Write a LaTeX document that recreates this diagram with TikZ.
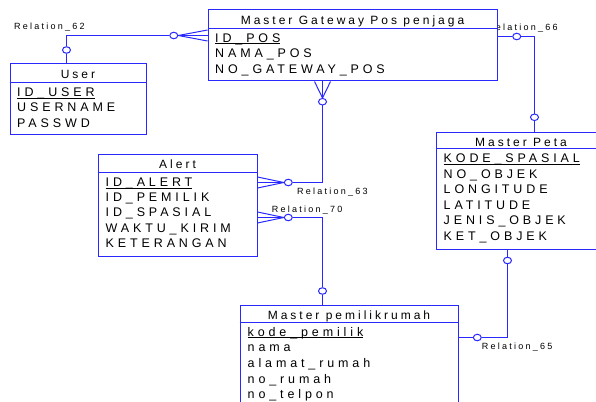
\documentclass[tikz,border=0pt]{standalone}
\usepackage{fontspec}
\setmainfont{Liberation Sans}
\newfontfamily\erdfont[LetterSpace=25]{Liberation Sans}
\newfontfamily\attrfont[LetterSpace=31]{Liberation Sans}
\usetikzlibrary{calc,shapes.geometric}
\definecolor{erdblue}{RGB}{40,40,255}
\newcommand{\keyattr}[1]{\setbox0\hbox{#1}\rlap{\rule[-1.8pt]{\wd0}{0.8pt}}\box0}

\begin{document}
\begin{tikzpicture}[x=1pt, y=-1pt,
    entity/.style={draw=erdblue, fill=white, line width=1pt, inner sep=0,
        anchor=north west},
    etitle/.style={font=\erdfont\fontsize{12}{14}\selectfont, anchor=base,
        inner sep=0},
    attr/.style={font=\attrfont\fontsize{12.5}{14}\selectfont,
        anchor=base west, inner sep=0},
    rel/.style={draw=erdblue, line width=1pt},
    opt/.style={ellipse, draw=erdblue, fill=white, line width=1pt,
        minimum width=8pt, minimum height=6.5pt, inner sep=0},
    relname/.style={font=\erdfont\fontsize{9}{10}\selectfont, anchor=west,
        inner sep=0},
]
    \useasboundingbox (0,0) rectangle (596,401);
    \clip (0,0) rectangle (596,401);

    %% relation names (Relation_66 is partly hidden by the gateway box)
    \node[relname] (l62) at (14,27) {Relation\_62};
    \node[relname] (l66) at (487,28.5) {Relation\_66};
    \node[relname] (l63) at (297,191.7) {Relation\_63};
    \node[relname] (l70) at (271.7,210) {Relation\_70};
    \node[relname] (l65) at (481.7,346.7) {Relation\_65};

    %% the tables
    \node[entity, minimum width=136, minimum height=70] (user)
        at (9.5,63.5) {};
    \node[etitle] (user-t) at ($(user.north)+(0,15)$) {User};
    \draw[rel] ($(user.north west)+(0,19)$) -- ($(user.north east)+(0,19)$);
    \foreach \t [count=\i] in {\keyattr{ID\_USER}, USERNAME, PASSWD}
        \node[attr] (user-\i) at ($(user.north west)+(7.5,{33+(\i-1)*15.3})$) {\t};

    \node[entity, minimum width=289, minimum height=71] (gw)
        at (207.5,9.5) {};
    \node[etitle] (gw-t) at ($(gw.north)+(0,15)$) {Master Gateway Pos penjaga};
    \draw[rel] ($(gw.north west)+(0,19)$) -- ($(gw.north east)+(0,19)$);
    \foreach \t [count=\i] in {\keyattr{ID\_POS}, NAMA\_POS, NO\_GATEWAY\_POS}
        \node[attr] (gw-\i) at ($(gw.north west)+(7.5,{33+(\i-1)*15.3})$) {\t};

    \node[entity, minimum width=159, minimum height=102] (alert)
        at (97.5,153.5) {};
    \node[etitle] (alert-t) at ($(alert.north)+(0,15)$) {Alert};
    \draw[rel] ($(alert.north west)+(0,19)$) -- ($(alert.north east)+(0,19)$);
    \foreach \t [count=\i] in {\keyattr{ID\_ALERT}, ID\_PEMILIK, ID\_SPASIAL,
            WAKTU\_KIRIM, KETERANGAN}
        \node[attr] (alert-\i) at ($(alert.north west)+(8,{33+(\i-1)*15.2})$) {\t};

    \node[entity, minimum width=170, minimum height=117] (peta)
        at (435.5,131.5) {};
    \node[etitle] (peta-t) at ($(peta.north)+(0,15)$) {Master Peta};
    \draw[rel] ($(peta.north west)+(0,17)$) -- ($(peta.north east)+(0,17)$);
    \foreach \t [count=\i] in {\keyattr{KODE\_SPASIAL}, NO\_OBJEK, LONGITUDE,
            LATITUDE, JENIS\_OBJEK, KET\_OBJEK}
        \node[attr] (peta-\i) at ($(peta.north west)+(8,{31+(\i-1)*15.6})$) {\t};

    \node[entity, minimum width=218, minimum height=120] (pem)
        at (239.5,304.5) {};
    \node[etitle] (pem-t) at ($(pem.north)+(0,15.3)$) {Master pemilikrumah};
    \draw[rel] ($(pem.north west)+(0,18)$) -- ($(pem.north east)+(0,18)$);
    \foreach \t [count=\i] in {\keyattr{kode\_pemilik}, nama, alamat\_rumah,
            no\_rumah, no\_telpon}
        \node[attr] (pem-\i) at ($(pem.north west)+(8,{31.5+(\i-1)*15.7})$) {\t};

    %% optional ends
    \node[opt] (c62u) at (66.5,50) {};
    \node[opt] (c62g) at (173.8,35.5) {};
    \node[opt] (c66g) at (516.7,36.5) {};
    \node[opt] (c66p) at (534.5,117.3) {};
    \node[opt] (c63g) at (322.5,101.7) {};
    \node[opt] (c63a) at (288.3,182.5) {};
    \node[opt] (c70a) at (288.3,217.5) {};
    \node[opt] (c70m) at (322.5,291) {};
    \node[opt] (c65m) at (477.3,337.5) {};
    \node[opt] (c65p) at (507.5,260.5) {};

    %% Relation_62
    \draw[rel] (user.north -| c62u) -- (c62u);
    \draw[rel] (c62u) |- (c62g);
    \foreach \d in {-5.5,0,5.5}
        \draw[rel] (c62g.east) -- ($(c62g -| gw.west)+(0,\d)$);

    %% Relation_66
    \draw[rel] (gw.east |- c66g) -- (c66g);
    \draw[rel] (c66g) -| (c66p);
    \draw[rel] (c66p) -- (c66p |- peta.north);

    %% Relation_63
    \foreach \d in {-8,0,8}
        \draw[rel] (c63g.north) -- ($(c63g |- gw.south)+(\d,0)$);
    \draw[rel] (c63g) |- (c63a);
    \foreach \d in {-5.5,0,5.5}
        \draw[rel] (c63a.west) -- ($(c63a -| alert.east)+(0,\d)$);

    %% Relation_70
    \foreach \d in {-5.5,0,5.5}
        \draw[rel] (c70a.west) -- ($(c70a -| alert.east)+(0,\d)$);
    \draw[rel] (c70a) -| (c70m);
    \draw[rel] (c70m) -- (c70m |- pem.north);

    %% Relation_65
    \draw[rel] (pem.east |- c65m) -- (c65m);
    \draw[rel] (c65m) -| (c65p);
    \draw[rel] (c65p) -- (c65p |- peta.south);
\end{tikzpicture}
\end{document}
